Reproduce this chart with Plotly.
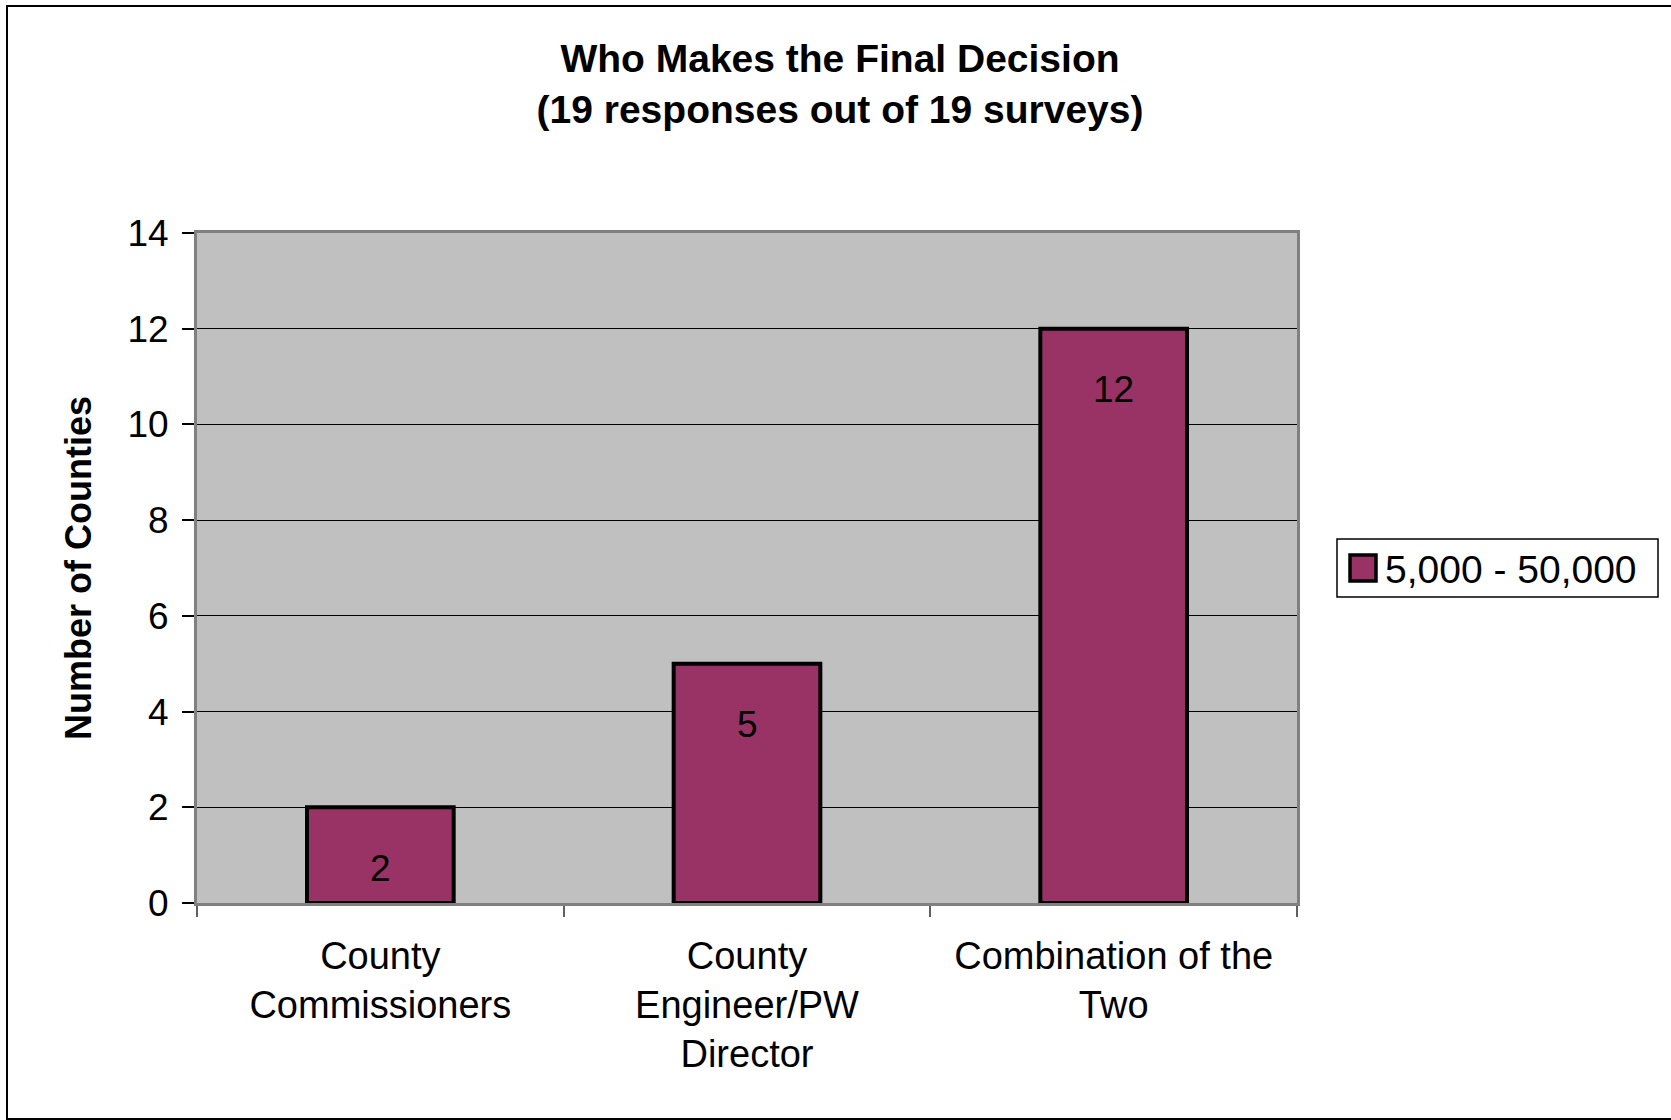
import plotly.graph_objects as go

# Survey results: who makes the final decision
categories = ["County<br>Commissioners", "County<br>Engineer/PW<br>Director", "Combination of the<br>Two"]
counts = [2, 5, 12]
series_name = "5,000 - 50,000"
title_text = "Who Makes the Final Decision<br>(19 responses out of 19 surveys)"
y_title = "Number of Counties"
y_ticks = [0, 2, 4, 6, 8, 10, 12, 14]

W, H = 1671, 1120
ML, MR, MT, MB = 197, 374, 233, 217
PW, PH = W - ML - MR, H - MT - MB

BAR_COLOR = "#993366"
FONT = "Liberation Sans, Arial, sans-serif"


def px_x(x):
    return (x - ML) / PW


def px_y(y):
    return (H - MB - y) / PH


fig = go.Figure()
fig.add_trace(go.Bar(
    x=categories,
    y=counts,
    name=series_name,
    width=0.4,
    marker=dict(color=BAR_COLOR, line=dict(color="black", width=4)),
    showlegend=False,
))

# value labels inside the top of each bar
for c, v in zip(categories, counts):
    fig.add_annotation(x=c, y=v, text=str(v), showarrow=False,
                       yshift=-61, yanchor="middle",
                       font=dict(family=FONT, size=37, color="black"))

# y-axis title
fig.add_annotation(xref="paper", yref="paper", x=px_x(78), y=px_y(568),
                   text=y_title, textangle=-90, showarrow=False,
                   xanchor="center", yanchor="middle",
                   font=dict(family=FONT, size=36, color="black", weight="bold"))

shapes = [
    # outer chart border
    dict(type="rect", xref="paper", yref="paper",
         x0=px_x(7), x1=px_x(1700), y0=px_y(1119), y1=px_y(6),
         line=dict(color="black", width=2), fillcolor="rgba(0,0,0,0)", layer="below"),
    # legend box
    dict(type="rect", xref="paper", yref="paper",
         x0=px_x(1337), x1=px_x(1658), y0=px_y(597), y1=px_y(539),
         line=dict(color="black", width=1.5), fillcolor="white"),
    # legend swatch
    dict(type="rect", xref="paper", yref="paper",
         x0=px_x(1350), x1=px_x(1376), y0=px_y(581), y1=px_y(555),
         line=dict(color="black", width=3.5), fillcolor=BAR_COLOR),
]
fig.add_annotation(xref="paper", yref="paper", x=px_x(1383), y=px_y(569),
                   text=series_name, showarrow=False, xanchor="left", yanchor="middle",
                   font=dict(family=FONT, size=39, color="black"))

fig.update_layout(
    width=W, height=H,
    margin=dict(l=ML, r=MR, t=MT, b=MB),
    paper_bgcolor="white",
    plot_bgcolor="#C0C0C0",
    shapes=shapes,
    title=dict(text=title_text, x=840 / W, xanchor="center",
               y=1 - 72 / H, yanchor="middle", yref="container",
               font=dict(family=FONT, size=39, color="black", weight="bold")),
    font=dict(family=FONT, color="black"),
    bargap=0.6,
)

fig.update_xaxes(
    type="category",
    tickson="boundaries",
    ticks="outside", ticklen=11, tickwidth=1.5, tickcolor="#606060",
    ticklabelstandoff=17,
    showline=True, linecolor="#808080", linewidth=3, mirror=True,
    showgrid=False,
    tickfont=dict(family=FONT, size=38, color="black"),
)
fig.update_yaxes(
    range=[0, 14],
    tickvals=y_ticks,
    ticks="outside", ticklen=12, tickwidth=1.5, tickcolor="black",
    ticklabelstandoff=6,
    showline=True, linecolor="#808080", linewidth=3, mirror=True,
    showgrid=True, gridcolor="black", gridwidth=1,
    zeroline=False,
    tickfont=dict(family=FONT, size=37, color="black"),
)

fig.write_html("out.html")
